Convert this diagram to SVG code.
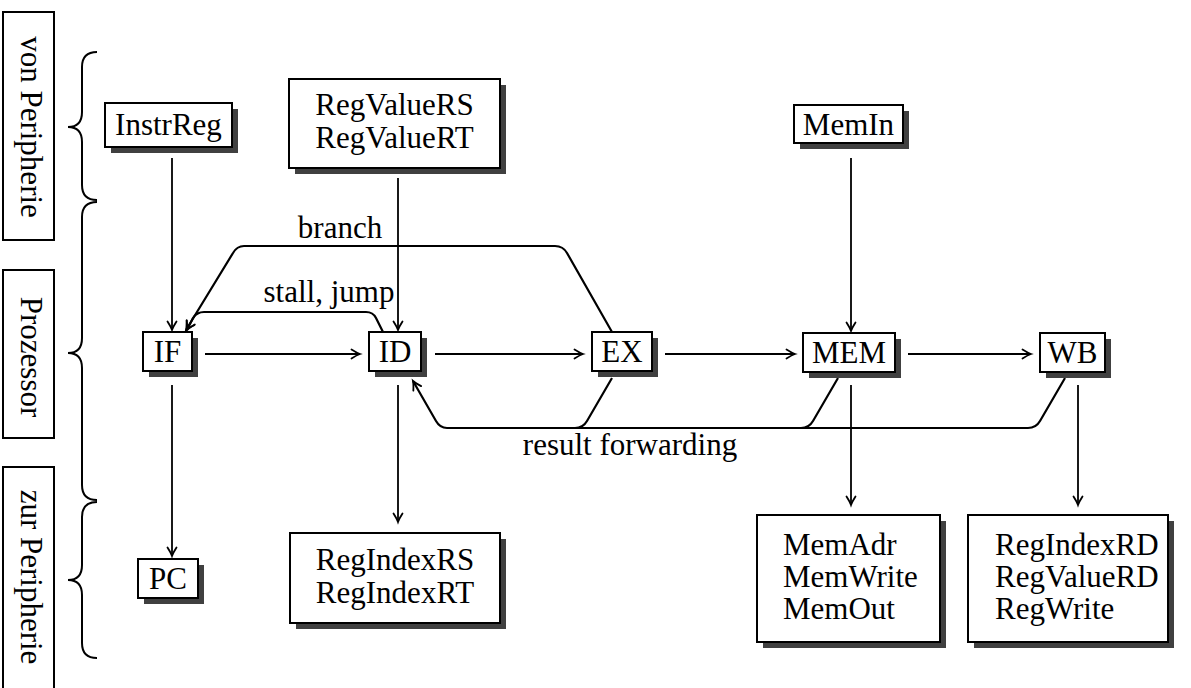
<svg xmlns="http://www.w3.org/2000/svg" width="1191" height="688" viewBox="0 0 1191 688" font-family="'Liberation Serif', 'DejaVu Serif', serif">
  <style>
    text { font-family: 'Liberation Serif', 'DejaVu Serif', serif; font-size: 31px; fill: #000; }
    .c { text-anchor: middle; }
    .box { fill: #fff; stroke: #000; stroke-width: 2; }
    .shadow { fill: #404040; stroke: none; }
    .frame { fill: #fff; stroke: #000; stroke-width: 2; }
    .brace { fill: none; stroke: #000; stroke-width: 2; }
    .edge { fill: none; stroke: #000; stroke-width: 1.8; }
    .edge2 { fill: none; stroke: #000; stroke-width: 2.2; stroke-linejoin: round; }
  </style>
  <defs>
    <marker id="arrow" markerUnits="userSpaceOnUse" markerWidth="16" markerHeight="16" viewBox="-10 -8 12 16" refX="0" refY="0" orient="auto">
      <path d="M -8.5 -4.5 Q -3 -1 0 0 Q -3 1 -8.5 4.5" fill="none" stroke="#000" stroke-width="1.8" stroke-linecap="round"/>
    </marker>
  </defs>

  <rect width="1191" height="688" fill="#fff"/>

  <!-- side categories -->
  <g id="side-von">
    <rect class="frame" x="3" y="12" width="51" height="228"/>
    <text class="c" transform="translate(21,127) rotate(90)">von Peripherie</text>
  </g>
  <g id="side-prozessor">
    <rect class="frame" x="3" y="270" width="51" height="168"/>
    <text class="c" transform="translate(21,357) rotate(90)">Prozessor</text>
  </g>
  <g id="side-zur">
    <rect class="frame" x="3" y="467" width="51" height="230"/>
    <text class="c" transform="translate(21,577) rotate(90)">zur Peripherie</text>
  </g>

  <!-- braces -->
  <g id="braces">
    <path class="brace" d="M97,52 Q82,52 82,67 L82,112 Q82,127 68,127 Q82,127 82,142 L82,185 Q82,200 97,200"/>
    <path class="brace" d="M97,202 Q82,202 82,217 L82,338 Q82,353 68,353 Q82,353 82,368 L82,485 Q82,500 97,500"/>
    <path class="brace" d="M97,502 Q82,502 82,517 L82,565 Q82,580 68,580 Q82,580 82,595 L82,643 Q82,658 97,658"/>
  </g>

  <!-- connectors -->
  <g id="connectors">
    <line class="edge" x1="172" y1="158" x2="172" y2="330" marker-end="url(#arrow)"/>
    <line class="edge" x1="398" y1="178" x2="398" y2="330" marker-end="url(#arrow)"/>
    <line class="edge" x1="851" y1="158" x2="851" y2="331" marker-end="url(#arrow)"/>

    <line class="edge" x1="205" y1="354" x2="360" y2="354" marker-end="url(#arrow)"/>
    <line class="edge" x1="435" y1="354" x2="583" y2="354" marker-end="url(#arrow)"/>
    <line class="edge" x1="665" y1="354" x2="795" y2="354" marker-end="url(#arrow)"/>
    <line class="edge" x1="908" y1="354" x2="1031" y2="354" marker-end="url(#arrow)"/>

    <line class="edge" x1="172" y1="385" x2="172" y2="556" marker-end="url(#arrow)"/>
    <line class="edge" x1="398" y1="385" x2="398" y2="522" marker-end="url(#arrow)"/>
    <line class="edge" x1="851" y1="385" x2="851" y2="505" marker-end="url(#arrow)"/>
    <line class="edge" x1="1078" y1="385" x2="1078" y2="505" marker-end="url(#arrow)"/>

    <!-- branch: EX back to IF -->
    <path class="edge2" d="M612,332 L567,253 Q563,246 555,246 L244,246 Q237,246 233,253 L186,330" marker-end="url(#arrow)"/>
    <!-- stall, jump: ID back to IF -->
    <path class="edge2" d="M383,332 L376,318 Q373,312 366,312 L204,312 Q197,312 193,318 L187,330" marker-end="url(#arrow)"/>
    <!-- result forwarding: EX, MEM, WB back to ID -->
    <path class="edge2" d="M612,378 L587,421 Q583,428 575,428 L447,428 Q440,428 436,421 L413,381" marker-end="url(#arrow)"/>
    <path class="edge2" d="M838,378 L813,421 Q809,428 801,428 L575,428"/>
    <path class="edge2" d="M1065,378 L1040,421 Q1036,428 1028,428 L801,428"/>

    <text class="c" x="340" y="238">branch</text>
    <text class="c" x="329" y="302">stall, jump</text>
    <text class="c" x="630" y="455">result forwarding</text>
  </g>

  <!-- nodes -->
  <g id="node-instrreg">
    <rect class="shadow" x="111" y="109" width="127" height="44"/>
    <rect class="box" x="105" y="103" width="127" height="44"/>
    <text class="c" x="168.5" y="135">InstrReg</text>
  </g>
  <g id="node-regvalue">
    <rect class="shadow" x="295" y="85" width="211" height="89"/>
    <rect class="box" x="289" y="79" width="211" height="89"/>
    <text class="c" x="394.5" y="115">RegValueRS</text>
    <text class="c" x="394.5" y="148">RegValueRT</text>
  </g>
  <g id="node-memin">
    <rect class="shadow" x="800" y="111" width="109" height="38"/>
    <rect class="box" x="794" y="105" width="109" height="38"/>
    <text class="c" x="848.5" y="135">MemIn</text>
  </g>
  <g id="node-if">
    <rect class="shadow" x="149" y="338" width="49" height="39"/>
    <rect class="box" x="143" y="332" width="49" height="39"/>
    <text class="c" x="167.5" y="362">IF</text>
  </g>
  <g id="node-id">
    <rect class="shadow" x="375" y="338" width="52" height="39"/>
    <rect class="box" x="369" y="332" width="52" height="39"/>
    <text class="c" x="395" y="362">ID</text>
  </g>
  <g id="node-ex">
    <rect class="shadow" x="598" y="338" width="60" height="39"/>
    <rect class="box" x="592" y="332" width="60" height="39"/>
    <text class="c" x="622" y="362">EX</text>
  </g>
  <g id="node-mem">
    <rect class="shadow" x="809" y="339" width="92" height="39"/>
    <rect class="box" x="803" y="333" width="92" height="39"/>
    <text class="c" x="849" y="363">MEM</text>
  </g>
  <g id="node-wb">
    <rect class="shadow" x="1046" y="339" width="65" height="39"/>
    <rect class="box" x="1040" y="333" width="65" height="39"/>
    <text class="c" x="1072.5" y="363">WB</text>
  </g>
  <g id="node-pc">
    <rect class="shadow" x="144" y="565" width="60" height="39"/>
    <rect class="box" x="138" y="559" width="60" height="39"/>
    <text class="c" x="168" y="589">PC</text>
  </g>
  <g id="node-regindex">
    <rect class="shadow" x="296" y="539" width="210" height="90"/>
    <rect class="box" x="290" y="533" width="210" height="90"/>
    <text class="c" x="395" y="570">RegIndexRS</text>
    <text class="c" x="395" y="603">RegIndexRT</text>
  </g>
  <g id="node-memout">
    <rect class="shadow" x="763" y="521" width="183" height="127"/>
    <rect class="box" x="757" y="515" width="183" height="127"/>
    <text x="783" y="555">MemAdr</text>
    <text x="783" y="587">MemWrite</text>
    <text x="783" y="619">MemOut</text>
  </g>
  <g id="node-regwrite">
    <rect class="shadow" x="974" y="521" width="200" height="127"/>
    <rect class="box" x="968" y="515" width="200" height="127"/>
    <text x="995" y="555">RegIndexRD</text>
    <text x="995" y="587">RegValueRD</text>
    <text x="995" y="619">RegWrite</text>
  </g>
</svg>
